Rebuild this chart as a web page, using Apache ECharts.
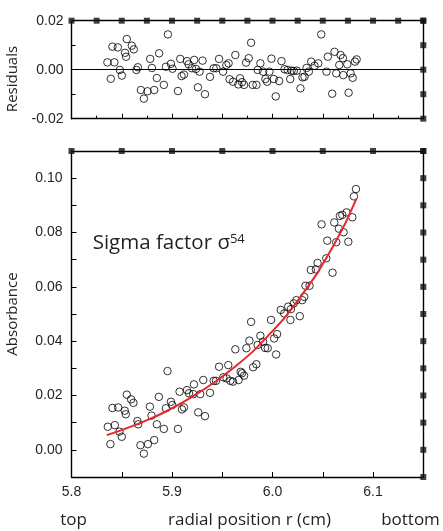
<!DOCTYPE html>
<html><head><meta charset="utf-8">
<script src="https://cdn.jsdelivr.net/npm/echarts@6/dist/echarts.min.js"></script>
<style>html,body{margin:0;padding:0;background:#fff}#c{width:443px;height:531px}</style>
</head><body><div id="c"></div>
<script>
// ---- data ----
const residX = [5.8357,5.8391,5.8407,5.8427,5.8461,5.8481,5.8501,5.8533,5.8543,5.8550,5.8600,5.8620,5.8646,5.8660,5.8690,5.8720,5.8756,5.8783,5.8800,5.8823,5.8849,5.8872,5.8919,5.8939,5.8959,5.8989,5.9005,5.9059,5.9082,5.9095,5.9119,5.9149,5.9165,5.9198,5.9221,5.9238,5.9258,5.9274,5.9304,5.9328,5.9378,5.9414,5.9441,5.9468,5.9508,5.9540,5.9563,5.9573,5.9607,5.9630,5.9660,5.9677,5.9697,5.9717,5.9737,5.9763,5.9787,5.9803,5.9840,5.9852,5.9879,5.9906,5.9929,5.9946,5.9969,5.9989,6.0012,6.0032,6.0066,6.0089,6.0119,6.0149,6.0176,6.0189,6.0211,6.0241,6.0278,6.0298,6.0318,6.0338,6.0361,6.0385,6.0418,6.0455,6.0485,6.0537,6.0550,6.0594,6.0617,6.0634,6.0664,6.0677,6.0700,6.0704,6.0744,6.0757,6.0777,6.0797,6.0820,6.0837];
const residY = [0.0030,-0.0037,0.0094,0.0030,0.0091,-0.0001,-0.0024,0.0069,0.0053,0.0125,0.0098,0.0083,-0.0001,0.0010,-0.0083,-0.0118,-0.0088,0.0044,0.0007,-0.0083,-0.0034,0.0067,-0.0062,0.0012,0.0144,0.0024,0.0004,-0.0087,0.0044,-0.0026,-0.0020,0.0035,0.0022,0.0006,0.0040,0.0003,-0.0072,-0.0008,0.0037,-0.0100,-0.0029,0.0006,0.0006,0.0044,-0.0008,0.0019,0.0026,-0.0039,-0.0049,0.0060,-0.0060,-0.0035,-0.0051,-0.0062,0.0029,0.0047,0.0110,-0.0062,-0.0062,-0.0001,0.0026,-0.0008,-0.0038,-0.0049,-0.0008,0.0045,-0.0038,-0.0109,-0.0046,0.0035,0.0002,-0.0001,-0.0038,-0.0004,-0.0005,-0.0004,-0.0076,-0.0031,-0.0029,0.0007,-0.0008,0.0033,0.0016,0.0026,0.0144,-0.0008,0.0053,-0.0098,0.0073,-0.0015,0.0019,0.0060,0.0047,-0.0022,0.0022,-0.0094,-0.0015,-0.0033,0.0033,0.0042];
const absX = [5.8361,5.8387,5.8407,5.8431,5.8464,5.8477,5.8500,5.8530,5.8540,5.8550,5.8593,5.8616,5.8656,5.8663,5.8686,5.8720,5.8760,5.8780,5.8796,5.8823,5.8849,5.8869,5.8919,5.8939,5.8955,5.8989,5.9002,5.9059,5.9075,5.9099,5.9119,5.9149,5.9169,5.9211,5.9218,5.9261,5.9281,5.9311,5.9328,5.9378,5.9414,5.9438,5.9468,5.9510,5.9543,5.9560,5.9580,5.9607,5.9630,5.9663,5.9683,5.9697,5.9717,5.9740,5.9770,5.9787,5.9807,5.9839,5.9852,5.9879,5.9906,5.9926,5.9952,5.9986,6.0016,6.0036,6.0046,6.0178,6.0082,6.0116,6.0156,6.0183,6.0211,6.0238,6.0271,6.0295,6.0315,6.0328,6.0368,6.0381,6.0431,6.0448,6.0488,6.0535,6.0545,6.0597,6.0614,6.0634,6.0660,6.0670,6.0694,6.0707,6.0737,6.0754,6.0794,6.0810,6.0830];
const absY = [0.0085,0.0021,0.0154,0.0091,0.0156,0.0067,0.0048,0.0144,0.0131,0.0203,0.0186,0.0173,0.0106,0.0094,0.0017,-0.0014,0.0021,0.0159,0.0126,0.0036,0.0094,0.0195,0.0077,0.0153,0.0290,0.0177,0.0165,0.0077,0.0214,0.0149,0.0156,0.0220,0.0208,0.0205,0.0241,0.0138,0.0205,0.0257,0.0124,0.0210,0.0254,0.0254,0.0306,0.0267,0.0263,0.0312,0.0254,0.0251,0.0370,0.0257,0.0287,0.0282,0.0273,0.0374,0.0402,0.0471,0.0304,0.0315,0.0386,0.0420,0.0398,0.0375,0.0374,0.0478,0.0410,0.0351,0.0426,0.0478,0.0515,0.0502,0.0527,0.0518,0.0539,0.0551,0.0492,0.0551,0.0563,0.0604,0.0604,0.0662,0.0664,0.0688,0.0830,0.0705,0.0770,0.0652,0.0837,0.0764,0.0814,0.0861,0.0865,0.0801,0.0874,0.0766,0.0856,0.0933,0.0960];
const fitX = [5.8351,5.8616,5.8949,5.9281,5.9613,5.9946,6.0278,6.0610,6.0835];
const fitY = [0.0054,0.0089,0.0143,0.0214,0.0302,0.0416,0.0563,0.0754,0.0925];

// tick / marker positions (axis values)
const residTopMarks = [5.8,5.825,5.85,5.875,5.9,5.925,5.95,5.975,6.0,6.025,6.05,6.075,6.1,6.125,6.15];
const residRightMarks = [0.02,0.01,0,-0.01,-0.02];
const absTopMarks = [5.8,5.85,5.9,5.95,6.0,6.05,6.1,6.15];
const absRightMarks = [0.11,0.10,0.09,0.08,0.07,0.06,0.05,0.04,0.03,0.02,0.01,0,-0.01];
const xTickLabels = ['5.8','5.9','6.0','6.1'];
const residTickLabels = ['0.02','0.00','-0.02'];
const absTickLabels = ['0.00','0.02','0.04','0.06','0.08','0.10'];

const TXT = '#231f20';
const numFont = '"Liberation Sans", Arial, sans-serif';
const titleFont = '"Open Sans", "Noto Sans", sans-serif';
const axLine = {show:true, onZero:false, lineStyle:{color:'#000', width:1.4}};

// label only at exact tick values found in the label lists
function pick(list, dec){
  const step = Math.pow(10, dec);
  return v => {
    const k = Math.round(v * 100);
    if (Math.abs(v * 100 - k) > 1e-6) return '';
    const t0 = (k / 100).toFixed(dec);
    const t = (t0 === '-0.00' || t0 === '-0.0') ? (0).toFixed(dec) : t0;
    if (Math.abs(Number(t) * 100 - k) > 1e-6) return '';
    return list.indexOf(t) >= 0 ? t : '';
  };
}

const G0 = {left:71.5, right:19.7, top:20.7, height:98};
const G1 = {left:71.5, right:19.7, top:151, height:326};

function frameX(gi, pos){ return {type:'value', gridIndex:gi, position:pos, min:5.8, max:6.15, axisLine:axLine, axisTick:{show:false}, axisLabel:{show:false}, splitLine:{show:false}}; }
function frameY(gi, pos, mn, mx){ return {type:'value', gridIndex:gi, position:pos, min:mn, max:mx, axisLine:axLine, axisTick:{show:false}, axisLabel:{show:false}, splitLine:{show:false}}; }

const markerStyle = {color:'#111'};
function markers(xi, yi, pts){ return {type:'scatter', xAxisIndex:xi, yAxisIndex:yi, data:pts, symbol:'rect', symbolSize:6, itemStyle:markerStyle, clip:false, silent:true, z:5}; }

const option = {
  animation:false,
  backgroundColor:'#fff',
  grid:[G0, G1],
  xAxis:[
    {type:'value', gridIndex:0, position:'bottom', min:5.8, max:6.15, interval:0.05,
     axisLine:axLine, axisTick:{show:true, inside:true, length:5, lineStyle:{color:'#000', width:1}},
     minorTick:{show:true, splitNumber:2, length:3, lineStyle:{color:'#000', width:1}},
     axisLabel:{show:false}, splitLine:{show:false}},
    frameX(0,'top'),
    {type:'value', gridIndex:1, position:'bottom', min:5.8, max:6.15, interval:0.05,
     axisLine:axLine, axisTick:{show:true, inside:true, length:5, lineStyle:{color:'#000', width:1}},
     axisLabel:{show:true, margin:8, color:TXT, fontSize:14, fontFamily:numFont, formatter:pick(xTickLabels,1), showMaxLabel:true},
     splitLine:{show:false}},
    frameX(1,'top')
  ],
  yAxis:[
    {type:'value', gridIndex:0, position:'left', min:-0.02, max:0.02, interval:0.01,
     axisLine:axLine, axisTick:{show:true, inside:true, length:4, lineStyle:{color:'#000', width:1}},
     axisLabel:{show:true, margin:8, color:TXT, fontSize:14, fontFamily:numFont, formatter:pick(residTickLabels,2)},
     splitLine:{show:false}},
    frameY(0,'right',-0.02,0.02),
    {type:'value', gridIndex:1, position:'left', min:-0.01, max:0.11, interval:0.01,
     axisLine:axLine, axisTick:{show:true, inside:true, length:5, lineStyle:{color:'#000', width:1}},
     axisLabel:{show:true, margin:9, color:TXT, fontSize:14, fontFamily:numFont, formatter:pick(absTickLabels,2)},
     splitLine:{show:false}},
    frameY(1,'right',-0.01,0.11)
  ],
  series:[
    {type:'scatter', xAxisIndex:0, yAxisIndex:0, data:residX.map((x,i)=>[x,residY[i]]),
     symbol:'circle', symbolSize:7.5, itemStyle:{color:'rgba(255,255,255,0)', borderColor:'#000', borderWidth:1}, z:3,
     markLine:{silent:true, symbol:['none','none'], label:{show:false}, lineStyle:{color:'#000', width:1.2, type:'solid'}, data:[{yAxis:0}], z:2}},
    {type:'scatter', xAxisIndex:2, yAxisIndex:2, data:absX.map((x,i)=>[x,absY[i]]),
     symbol:'circle', symbolSize:7.5, itemStyle:{color:'rgba(255,255,255,0)', borderColor:'#000', borderWidth:1}, z:3},
    {type:'line', xAxisIndex:2, yAxisIndex:2, data:fitX.map((x,i)=>[x,fitY[i]]), smooth:true, showSymbol:false,
     lineStyle:{color:'#e8262c', width:2}, z:4, silent:true},
    markers(0,0, residTopMarks.map(x=>[x,0.02])),
    markers(0,0, residRightMarks.map(y=>[6.15,y])),
    markers(2,2, absTopMarks.map(x=>[x,0.11])),
    markers(2,2, absRightMarks.map(y=>[6.15,y]))
  ],
  graphic:[
    {type:'text', x:13, y:79, rotation:Math.PI/2, style:{text:'Residuals', font:'15px '+titleFont, fill:TXT, textAlign:'center', textVerticalAlign:'middle'}},
    {type:'text', x:13, y:314, rotation:Math.PI/2, style:{text:'Absorbance', font:'15px '+titleFont, fill:TXT, textAlign:'center', textVerticalAlign:'middle'}},
    {type:'text', x:73.5, y:520, style:{text:'top', font:'17px '+titleFont, fill:TXT, textAlign:'center', textVerticalAlign:'middle'}},
    {type:'text', x:249.5, y:520, style:{text:'radial position r (cm)', font:'17px '+titleFont, fill:TXT, textAlign:'center', textVerticalAlign:'middle'}},
    {type:'text', x:410.5, y:520, style:{text:'bottom', font:'17px '+titleFont, fill:TXT, textAlign:'center', textVerticalAlign:'middle'}},
    {type:'text', x:92.7, y:243, style:{text:'{a|Sigma factor σ}{b|54}', textAlign:'left', textVerticalAlign:'middle',
      rich:{a:{fontSize:20.5, fontFamily:titleFont, fill:TXT, color:TXT}, b:{fontSize:13, fontFamily:titleFont, fill:TXT, color:TXT, verticalAlign:'top'}}}}
  ]
};
const chart = echarts.init(document.getElementById('c'), null, {renderer:'canvas'});
chart.setOption(option);
</script></body></html>
